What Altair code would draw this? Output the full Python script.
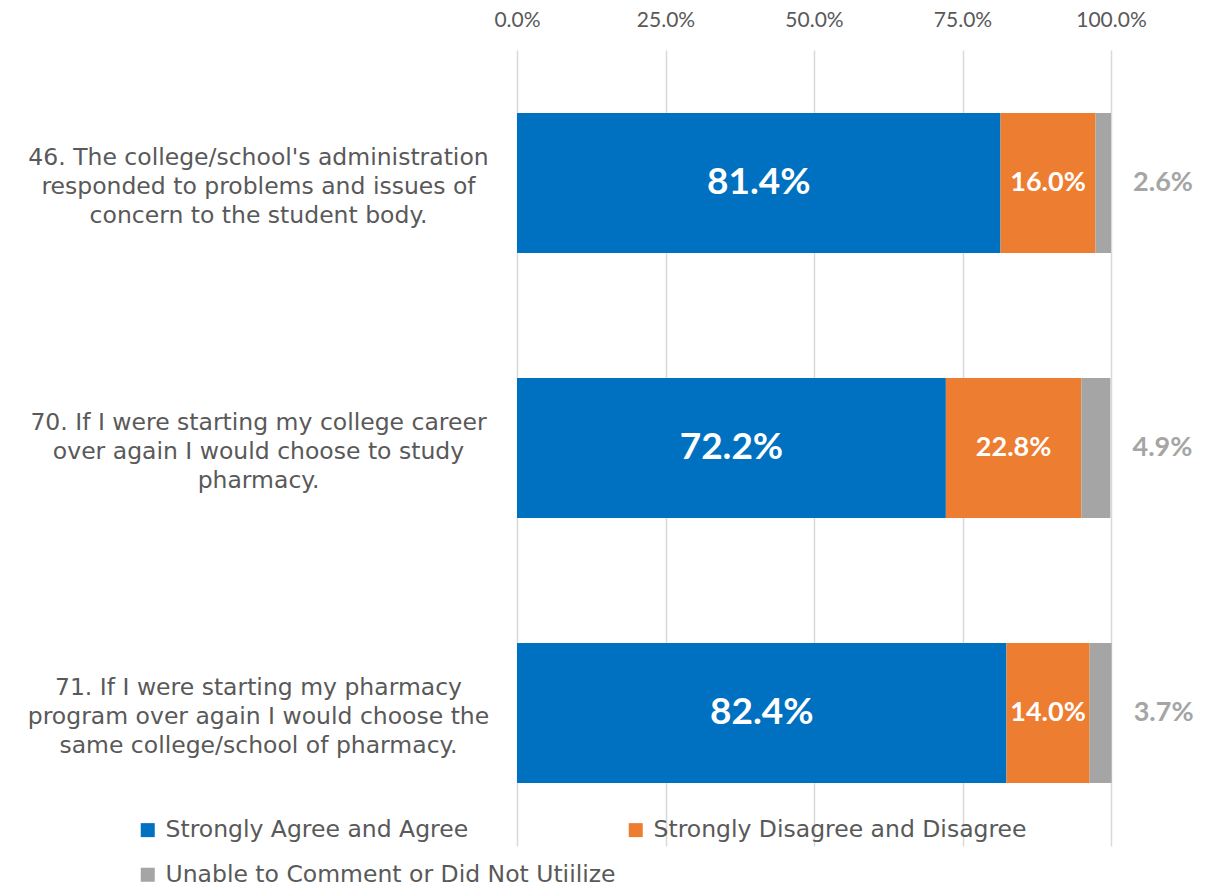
import altair as alt
import pandas as pd

questions = [
    "46. The college/school's administration|responded to problems and issues of|concern to the student body.",
    "70. If I were starting my college career|over again I would choose to study|pharmacy.",
    "71. If I were starting my pharmacy|program over again I would choose the|same college/school of pharmacy.",
]
categories = [
    "Strongly Agree and Agree",
    "Strongly Disagree and Disagree",
    "Unable to Comment or Did Not Utiilize",
]
colors = ["#0070C0", "#ED7D31", "#A5A5A5"]
agree = [81.4, 72.2, 82.4]
disagree = [16.0, 22.8, 14.0]
unable = [2.6, 4.9, 3.7]
x_ticks = [0, 25, 50, 75, 100]

rows = []
for qi, q in enumerate(questions):
    for ci, (cat, vals) in enumerate(zip(categories, [agree, disagree, unable])):
        rows.append({"question": q, "category": cat, "value": vals[qi], "order": ci})
df = pd.DataFrame(rows)

base = (
    alt.Chart(df)
    .transform_stack(stack="value", groupby=["question"], sort=[alt.SortField("order")], as_=["x0", "x1"])
    .transform_calculate(mid="(datum.x0 + datum.x1) / 2", label="format(datum.value, '.1f') + '%'")
)

y_enc = alt.Y(
    "question:N",
    sort=questions,
    title=None,
    scale=alt.Scale(paddingInner=0.4717, paddingOuter=0.238),
    axis=alt.Axis(
        labelExpr="split(datum.label, '|')",
        labelAlign="center",
        labelBaseline="middle",
        labelPadding=259,
        labelOffset=-25,
        labelFont="DejaVu Sans",
        labelFontSize=23.5,
        labelColor="#595959",
        labelLineHeight=29,
        labelLimit=700,
        domain=False,
        ticks=False,
        grid=False,
    ),
)

bars = base.mark_bar().encode(
    x=alt.X(
        "x0:Q",
        title=None,
        scale=alt.Scale(domain=[0, 100], nice=False),
        axis=alt.Axis(
            orient="top",
            values=x_ticks,
            labelExpr="format(datum.value, '.1f') + '%'",
            labelAlign="center",
            labelFlush=False,
            grid=True,
            gridColor="#D9D9D9",
            gridWidth=1.5,
            domain=False,
            ticks=False,
            labelPadding=20,
            labelFont="Lato",
            labelFontSize=21,
            labelColor="#595959",
        ),
    ),
    x2="x1:Q",
    y=y_enc,
    color=alt.Color(
        "category:N",
        scale=alt.Scale(domain=categories, range=colors),
        legend=alt.Legend(
            title=None,
            orient="none",
            direction="horizontal",
            legendX=-381,
            legendY=768,
            columns=2,
            columnPadding=8,
            rowPadding=20,
            padding=0,
            symbolType="square",
            symbolSize=196,
            symbolStrokeWidth=0,
            labelOffset=6,
            labelFont="DejaVu Sans",
            labelFontSize=23.5,
            labelColor="#595959",
            labelLimit=700,
        ),
    ),
)

y_plain = alt.Y("question:N", sort=questions)

blue_lbl = base.transform_filter("datum.order == 0").mark_text(
    font="Lato", fontWeight="bold", fontSize=37, color="white"
).encode(x="mid:Q", y=y_plain, text="label:N")

orange_lbl = base.transform_filter("datum.order == 1").mark_text(
    font="Lato", fontWeight="bold", fontSize=27, color="white"
).encode(x="mid:Q", y=y_plain, text="label:N")

gray_lbl = base.transform_filter("datum.order == 2").mark_text(
    font="Lato", fontWeight="bold", fontSize=27, color="#A5A5A5", dx=52
).encode(x="x1:Q", y=y_plain, text="label:N")

chart = (
    alt.layer(bars, blue_lbl, orange_lbl, gray_lbl)
    .properties(
        width=594,
        height=796,
        autosize=alt.AutoSizeParams(type="none"),
        padding={"left": 509, "top": 42, "right": 90, "bottom": 50},
    )
    .configure_view(stroke=None)
)

chart.save("out.html", embed_options={"renderer": "svg", "actions": False})
